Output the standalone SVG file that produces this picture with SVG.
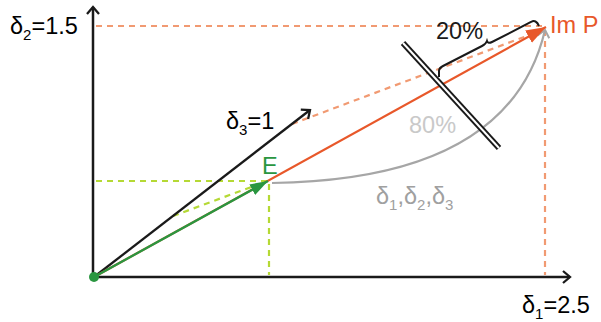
<svg xmlns="http://www.w3.org/2000/svg" width="601" height="322" viewBox="0 0 601 322">
<style>
text{font-family:"Liberation Sans",Arial,sans-serif;font-size:23.5px}
.ax{stroke:#1a1a1a;stroke-width:2.5;fill:none}
.od{stroke:#f19a72;stroke-width:2.2;stroke-dasharray:6,5;fill:none}
.ld{stroke:#b5d935;stroke-width:2.2;stroke-dasharray:6,5;fill:none}
.sub{font-size:15px}
</style>
<defs>
<marker id="chevK" markerUnits="userSpaceOnUse" markerWidth="16" markerHeight="16" refX="12" refY="8" orient="auto">
<path d="M5,2 L12,8 L5,14" fill="none" stroke="#1a1a1a" stroke-width="2.3"/>
</marker>
<marker id="chevG" markerUnits="userSpaceOnUse" markerWidth="16" markerHeight="16" refX="12" refY="8" orient="auto">
<path d="M5,2 L12,8 L5,14" fill="none" stroke="#a6a6a6" stroke-width="2"/>
</marker>
<marker id="triO" markerUnits="userSpaceOnUse" markerWidth="22" markerHeight="16" refX="20" refY="8" orient="auto">
<path d="M0,1 L20,8 L0,15 Z" fill="#e8582a"/>
</marker>
<marker id="triG" markerUnits="userSpaceOnUse" markerWidth="20" markerHeight="14" refX="18" refY="7" orient="auto">
<path d="M0,1 L18,7 L0,13 Z" fill="#2a9640"/>
</marker>
</defs>

<g id="guides">
<line class="od" x1="96" y1="26" x2="545" y2="26"/>
<line class="od" x1="545" y1="30" x2="545" y2="275"/>
<line class="od" x1="292" y1="124" x2="540" y2="31"/>
<line class="ld" x1="96" y1="181" x2="268" y2="181"/>
<line class="ld" x1="269" y1="184" x2="269" y2="275"/>
<line class="ld" x1="173" y1="216" x2="254" y2="186"/>
</g>

<g id="axes">
<line class="ax" x1="93" y1="278" x2="93" y2="7" marker-end="url(#chevK)"/>
<line class="ax" x1="92" y1="277" x2="570" y2="277" marker-end="url(#chevK)"/>
</g>

<g id="connectors">
<line id="delta3" x1="94" y1="277" x2="310" y2="110" stroke="#1a1a1a" stroke-width="2.3" marker-end="url(#chevK)"/>
<path id="arc" d="M272,183 Q510,180 545,30" fill="none" stroke="#a6a6a6" stroke-width="2.2" marker-end="url(#chevG)"/>
<line id="imp-arrow" x1="94" y1="277" x2="546" y2="27" stroke="#e8582a" stroke-width="2.2" marker-end="url(#triO)"/>
<line id="e-arrow" x1="94" y1="277" x2="268" y2="181" stroke="#2a9640" stroke-width="2.3" marker-end="url(#triG)"/>
</g>

<g id="cut">
<line x1="403" y1="43" x2="499" y2="148" stroke="#1a1a1a" stroke-width="6"/>
<line x1="403" y1="43" x2="499" y2="148" stroke="#ffffff" stroke-width="2"/>
</g>

<g id="brace">
<path d="M439,77 L439,71 Q439,68 443,66 L482,46 Q486,44 487,41 Q488,44 492,42 L531,22 Q536,19 539,26" fill="none" stroke="#1a1a1a" stroke-width="2"/>
</g>

<g id="origin"><circle cx="94" cy="277" r="5" fill="#2a9640"/></g>

<g id="labels">
<text x="10" y="34">δ<tspan class="sub" dy="6">2</tspan><tspan dy="-6">=1.5</tspan></text>
<text x="522" y="313">δ<tspan class="sub" dy="6">1</tspan><tspan dy="-6">=2.5</tspan></text>
<text x="226" y="129">δ<tspan class="sub" dy="6">3</tspan><tspan dy="-6">=1</tspan></text>
<text x="262" y="174" fill="#2a9640">E</text>
<text x="409" y="133" fill="#c9c9c9">80%</text>
<text x="436" y="39" fill="#1a1a1a">20%</text>
<text x="550" y="33" fill="#e8582a" font-size="24">Im P</text>
<text x="376" y="204" fill="#a0a0a0">δ<tspan class="sub" dy="6">1</tspan><tspan dy="-6">,δ</tspan><tspan class="sub" dy="6">2</tspan><tspan dy="-6">,δ</tspan><tspan class="sub" dy="6">3</tspan></text>
</g>
</svg>
